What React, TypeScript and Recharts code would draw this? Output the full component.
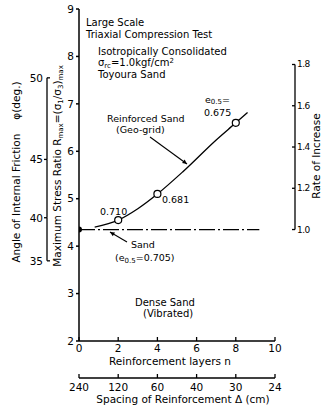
import { ComposedChart, Line, Scatter, XAxis, YAxis } from 'recharts';

// reinforcement layers n (x) and the spacing that goes with them
const layerTicks = [0, 2, 4, 6, 8, 10];
const spacingLabels = ['240', '120', '60', '40', '30', '24'];
const ratioTicks = [2, 3, 4, 5, 6, 7, 8, 9];
const phiTicks = [35, 40, 45, 50];
const rateTicks = [1.0, 1.2, 1.4, 1.6, 1.8];

// unreinforced sand, Rmax at n = 0
const sandRatio = 4.35;
const sandLineN = [0, 9.2];

// reinforced sand (geo-grid) test points
const reinforcedN = [2, 4, 8];
const reinforcedR = [4.55, 5.1, 6.6];

// hand drawn fit through the reinforced points
const curveN = [0.8, 2, 3, 4, 5.3, 7, 8, 8.6];
const curveR = [4.4, 4.55, 4.79, 5.1, 5.57, 6.24, 6.6, 6.82];

const sandDot = [{ n: 0, r: sandRatio }];
const sandLine = sandLineN.map((n) => ({ n, r: sandRatio }));
const reinforced = reinforcedN.map((n, i) => ({ n, r: reinforcedR[i] }));
const curve = curveN.map((n, i) => ({ n, r: curveR[i] }));

// Rmax = tan^2(45 + phi/2)
const phiToRatio = (phi: number) => {
  const s = Math.sin((phi * Math.PI) / 180);
  return (1 + s) / (1 - s);
};
const ratioToPhi = (r: number) => (Math.asin((r - 1) / (r + 1)) * 180) / Math.PI;

const W = 328;
const H = 407;
const TOP = 9;
const PLOT_H = H - TOP - 37 - 29;
const PX_PER_R = PLOT_H / 7;
const FONT = 'DejaVu Sans';

const LayerTick = ({ x, y, payload }: any) => (
  <g>
    <line x1={x} x2={x} y1={y} y2={y - 4} stroke="#000" strokeWidth={1.3} />
    <text x={x} y={y + 11} textAnchor="middle" fontSize={10.5} fontFamily={FONT} fill="#000">
      {payload.value}
    </text>
  </g>
);

const SpacingTick = ({ x, y, payload }: any) => (
  <g>
    <line x1={x} x2={x} y1={y} y2={y - 4} stroke="#000" strokeWidth={1.3} />
    <text x={x} y={y + 13} textAnchor="middle" fontSize={10.5} fontFamily={FONT} fill="#000">
      {spacingLabels[layerTicks.indexOf(payload.value)]}
    </text>
  </g>
);

const PhiTick = ({ x, y, payload }: any) => {
  const phi = Math.round(ratioToPhi(payload.value));
  const top = phi === phiTicks[phiTicks.length - 1];
  const bottom = phi === phiTicks[0];
  const next = top ? null : phiToRatio(phi + 5);
  return (
    <g>
      {next !== null && (
        <line x1={x} x2={x} y1={y} y2={y - (next - payload.value) * PX_PER_R} stroke="#000" strokeWidth={1.3} />
      )}
      <line x1={x} x2={top || bottom ? x + 3 : x - 3} y1={y} y2={y} stroke="#000" strokeWidth={1.3} />
      <text x={x - 4} y={y + 4} textAnchor="end" fontSize={10.5} fontFamily={FONT} fill="#000">
        {phi}
      </text>
    </g>
  );
};

const RateTick = ({ x, y, payload }: any) => {
  const rate = payload.value / sandRatio;
  const idx = rateTicks.findIndex((t) => Math.abs(t - rate) < 0.01);
  const lx = x + 20;
  const next = idx < rateTicks.length - 1 ? rateTicks[idx + 1] * sandRatio : null;
  return (
    <g>
      {next !== null && (
        <line x1={lx} x2={lx} y1={y} y2={y - (next - payload.value) * PX_PER_R} stroke="#000" strokeWidth={1.3} />
      )}
      <line x1={lx - 3} x2={lx} y1={y} y2={y} stroke="#000" strokeWidth={1.3} />
      <text x={lx + 2} y={y + 3} textAnchor="start" fontSize={9} letterSpacing={-0.6} fontFamily={FONT} fill="#000">
        {rateTicks[idx].toFixed(1)}
      </text>
    </g>
  );
};

const Arrow = ({ x1, y1, x2, y2 }: any) => {
  const a = Math.atan2(y2 - y1, x2 - x1);
  const l = 5;
  const p1 = `${x2 - l * Math.cos(a - 0.45)},${y2 - l * Math.sin(a - 0.45)}`;
  const p2 = `${x2 - l * Math.cos(a + 0.45)},${y2 - l * Math.sin(a + 0.45)}`;
  return (
    <g>
      <line x1={x1} y1={y1} x2={x2} y2={y2} stroke="#000" strokeWidth={1.1} />
      <polygon points={`${x2},${y2} ${p1} ${p2}`} fill="#000" />
    </g>
  );
};

const Sub = ({ children, d = 2 }: any) => (
  <tspan fontSize={7} dy={d}>
    {children}
  </tspan>
);
const Up = ({ children, d = 2 }: any) => <tspan dy={-d}>{children}</tspan>;

const OpenCircle = ({ cx, cy }: any) => (
  <circle cx={cx} cy={cy} r={3.5} fill="#fff" stroke="#000" strokeWidth={1.2} />
);
const FilledCircle = ({ cx, cy }: any) => <circle cx={cx} cy={cy} r={3} fill="#000" />;

export default function App() {
  const txt = { fontFamily: FONT, fontSize: 10, fill: '#000' };
  return (
    <div style={{ position: 'absolute', left: 0, top: 0, width: W, height: H, background: '#fff' }}>
      <ComposedChart width={W} height={H} margin={{ top: TOP, right: 0, bottom: 0, left: 0 }}>
        <XAxis
          xAxisId="a_n"
          dataKey="n"
          type="number"
          domain={[0, 10]}
          ticks={layerTicks}
          interval={0}
          allowDataOverflow
          height={37}
          stroke="#000"
          strokeWidth={1.5}
          tickLine={false}
          tickSize={0}
          tickMargin={0}
          tick={<LayerTick />}
        />
        <XAxis
          xAxisId="b_sp"
          dataKey="n"
          type="number"
          domain={[0, 10]}
          ticks={layerTicks}
          interval={0}
          allowDataOverflow
          height={29}
          stroke="#000"
          strokeWidth={1.3}
          tickLine={false}
          tickSize={0}
          tickMargin={0}
          tick={<SpacingTick />}
        />
        <XAxis
          xAxisId="c_top"
          dataKey="n"
          orientation="top"
          type="number"
          domain={[0, 10]}
          ticks={layerTicks}
          interval={0}
          allowDataOverflow
          mirror
          height={0}
          stroke="#000"
          strokeWidth={1.5}
          tickSize={4}
          tickFormatter={() => ''}
        />
        <YAxis
          yAxisId="a_r"
          dataKey="r"
          type="number"
          domain={[2, 9]}
          ticks={ratioTicks}
          interval={0}
          allowDataOverflow
          width={32}
          stroke="#000"
          strokeWidth={1.5}
          tickSize={3}
          tickMargin={2}
          tick={{ fontSize: 10.5, fontFamily: FONT, fill: '#000' }}
        />
        <YAxis
          yAxisId="b_phi"
          type="number"
          domain={[2, 9]}
          ticks={phiTicks.map(phiToRatio)}
          interval={0}
          allowDataOverflow
          width={47}
          axisLine={false}
          tickLine={false}
          tickSize={0}
          tickMargin={0}
          tick={<PhiTick />}
        />
        <YAxis
          yAxisId="c_frame"
          orientation="right"
          type="number"
          domain={[2, 9]}
          ticks={ratioTicks}
          interval={0}
          allowDataOverflow
          mirror
          width={0}
          stroke="#000"
          strokeWidth={1.5}
          tickSize={4}
          tickFormatter={() => ''}
        />
        <YAxis
          yAxisId="d_rate"
          orientation="right"
          type="number"
          domain={[2, 9]}
          ticks={rateTicks.map((t) => t * sandRatio)}
          interval={0}
          allowDataOverflow
          width={53}
          axisLine={false}
          tickLine={false}
          tickSize={0}
          tickMargin={0}
          tick={<RateTick />}
        />

        <Line
          xAxisId="a_n"
          yAxisId="a_r"
          data={sandLine}
          dataKey="r"
          stroke="#000"
          strokeWidth={1.2}
          strokeDasharray="16 3 2 3"
          dot={false}
          isAnimationActive={false}
        />
        <Line
          xAxisId="a_n"
          yAxisId="a_r"
          data={curve}
          dataKey="r"
          type="monotone"
          stroke="#000"
          strokeWidth={1.3}
          dot={false}
          isAnimationActive={false}
        />
        <Scatter
          xAxisId="a_n"
          yAxisId="a_r"
          data={reinforced}
          dataKey="r"
          shape={<OpenCircle />}
          isAnimationActive={false}
        />
        <Scatter
          xAxisId="a_n"
          yAxisId="a_r"
          data={sandDot}
          dataKey="r"
          shape={<FilledCircle />}
          isAnimationActive={false}
        />

        {/* axis titles */}
        <text transform="translate(20,172) rotate(-90)" textAnchor="middle" {...txt} fontSize={10.5}>
          Angle of Internal Friction<tspan dx={14}>φ(deg.)</tspan>
        </text>
        <text transform="translate(61,166) rotate(-90)" textAnchor="middle" {...txt} fontSize={10.5}>
          Maximum Stress Ratio  R<Sub>max</Sub>
          <Up>=(σ</Up>
          <Sub>1</Sub>
          <Up>/σ</Up>
          <Sub>3</Sub>
          <Up>)</Up>
          <Sub>max</Sub>
        </text>
        <text transform="translate(320,156) rotate(-90)" textAnchor="middle" {...txt} fontSize={10.5}>
          Rate of Increase
        </text>
        <text x={170} y={365} textAnchor="middle" {...txt} fontSize={10.5}>
          Reinforcement layers n
        </text>
        <text x={183} y={403} textAnchor="middle" {...txt} fontSize={10.5}>
          Spacing of Reinforcement Δ (cm)
        </text>

        {/* test description */}
        <text x={86} y={26} {...txt}>Large Scale</text>
        <text x={86} y={38} {...txt}>Triaxial Compression Test</text>
        <text x={98} y={55} {...txt}>Isotropically Consolidated</text>
        <text x={98} y={66} {...txt}>
          σ<Sub>rc</Sub>
          <Up>=1.0kgf/cm</Up>
          <tspan fontSize={7} dy={-3}>2</tspan>
        </text>
        <text x={98} y={78} {...txt}>Toyoura Sand</text>

        {/* annotations */}
        <text x={107} y={122} {...txt} fontSize={9.5}>Reinforced Sand</text>
        <text x={116} y={133} {...txt} fontSize={9.5}>(Geo-grid)</text>
        <Arrow x1={150} y1={137} x2={187} y2={164} />
        <text x={205} y={103} {...txt} fontSize={9.5}>
          e<Sub d={1}>0.5</Sub>
          <Up d={1}>=</Up>
        </text>
        <text x={204} y={116} {...txt} fontSize={9.5}>0.675</text>
        <text x={100} y={215} {...txt} fontSize={9.5}>0.710</text>
        <text x={162} y={203} {...txt} fontSize={9.5}>0.681</text>
        <text x={131} y={248} {...txt} fontSize={9.5}>Sand</text>
        <text x={115} y={261} {...txt} fontSize={9.5}>
          (e<Sub>0.5</Sub>
          <Up>=0.705)</Up>
        </text>
        <Arrow x1={127} y1={242} x2={110} y2={232} />
        <text x={135} y={306} {...txt}>Dense Sand</text>
        <text x={143} y={317} {...txt}>(Vibrated)</text>
      </ComposedChart>
    </div>
  );
}
